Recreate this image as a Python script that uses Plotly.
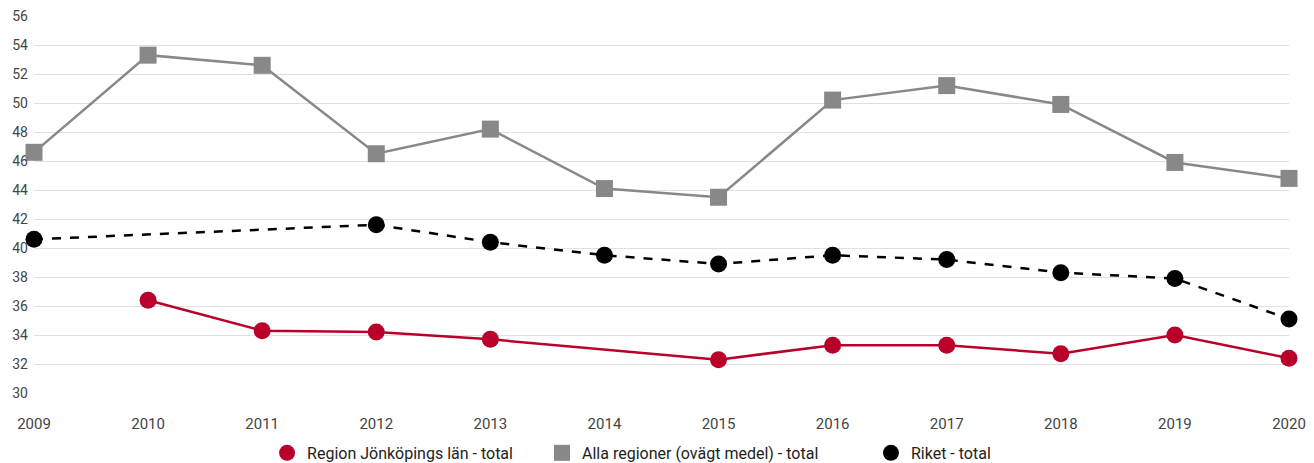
import plotly.graph_objects as go

years = [2009, 2010, 2011, 2012, 2013, 2014, 2015, 2016, 2017, 2018, 2019, 2020]
region_jkpg = [None, 36.4, 34.3, 34.2, 33.7, None, 32.3, 33.3, 33.3, 32.7, 34.0, 32.4]
alla_regioner = [46.6, 53.3, 52.6, 46.5, 48.2, 44.1, 43.5, 50.2, 51.2, 49.9, 45.9, 44.8]
riket = [40.6, None, None, 41.6, 40.4, 39.5, 38.9, 39.5, 39.2, 38.3, 37.9, 35.1]

names = ["Region Jönköpings län - total", "Alla regioner (ovägt medel) - total", "Riket - total"]
y_ticks = list(range(30, 57, 2))

RED = "#B8002B"
GRAY = "#888888"
BLACK = "#000000"

series = [
    (region_jkpg, names[0], RED, "circle", 17, "solid", "legend"),
    (alla_regioner, names[1], GRAY, "square", 17, "solid", "legend2"),
    (riket, names[2], BLACK, "circle", 17, "dash", "legend3"),
]

fig = go.Figure()
for vals, name, col, sym, sz, dash, leg in series:
    fig.add_trace(go.Scatter(
        x=years, y=vals, name=name, mode="lines+markers", connectgaps=True,
        line=dict(color=col, width=2.5, dash=dash),
        marker=dict(symbol=sym, size=sz, color=col),
        cliponaxis=False, showlegend=False,
    ))
    # legend-only entry showing just the marker
    fig.add_trace(go.Scatter(
        x=[None], y=[None], name=name, mode="markers",
        marker=dict(symbol=sym, size=sz + 2, color=col),
        showlegend=True, legend=leg,
    ))

leg_common = dict(orientation="h", yanchor="middle", y=-0.159, xanchor="left",
                  font=dict(size=16, color="#222222"), itemwidth=30,
                  bgcolor="rgba(0,0,0,0)")

fig.update_layout(
    width=1314, height=463,
    margin=dict(l=34, r=25, t=16, b=70, autoexpand=False),
    paper_bgcolor="white", plot_bgcolor="white",
    font=dict(family="Roboto", size=15, color="#444444"),
    xaxis=dict(range=[2009, 2020], tickvals=years, ticktext=[str(y) for y in years],
               showgrid=False, zeroline=False, showline=False, automargin=False,
               ticks="", ticklabelstandoff=20, fixedrange=True),
    yaxis=dict(range=[30, 56], tickvals=y_ticks, showgrid=True, gridcolor="#E0E0E0",
               gridwidth=1, zeroline=False, showline=False, ticks="", automargin=False,
               ticklabelstandoff=5, tickfont=dict(size=14)),
    legend=dict(x=0.1857, **leg_common),
    legend2=dict(x=0.4048, **leg_common),
    legend3=dict(x=0.6669, **leg_common),
)

fig.write_html("out.html", config={"displayModeBar": False},
               post_script="document.body.style.margin='0px';document.body.style.overflow='hidden';")
